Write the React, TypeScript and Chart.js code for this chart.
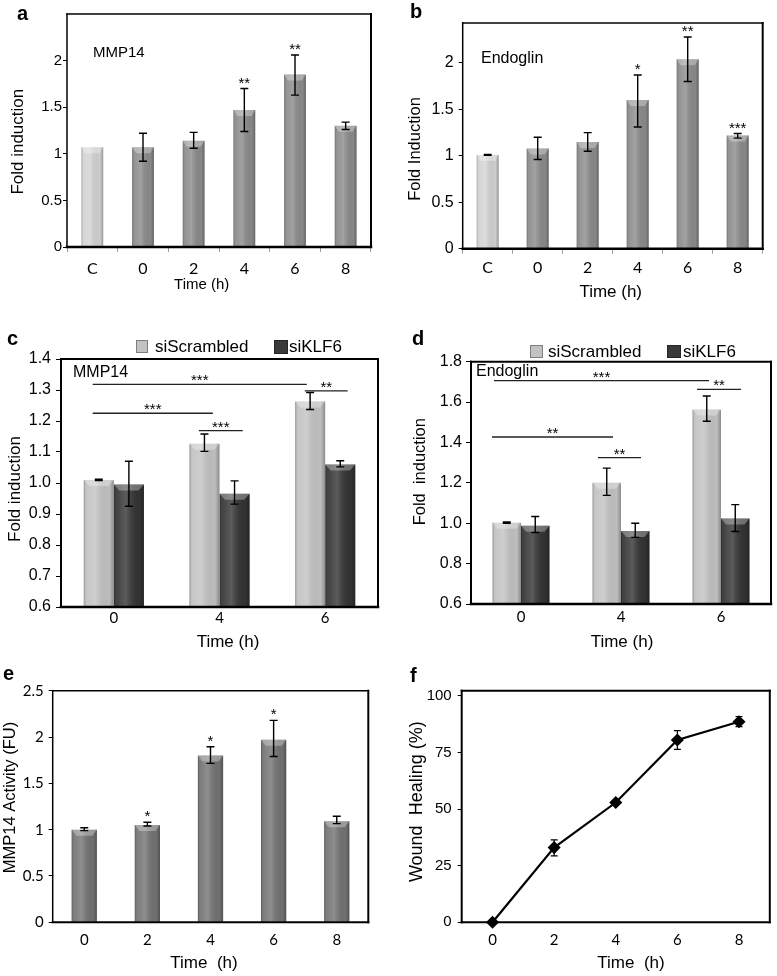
import { useEffect, useRef } from 'react';
import { Chart, registerables } from 'chart.js';

Chart.register(...registerables);
Chart.defaults.font.family = '"Liberation Sans", Arial, sans-serif';
Chart.defaults.color = '#000';

const W = 777;
const H = 976;
const YW = 40;
const XH = 30;

// ---------------- data ----------------
// panels a & b
const abCategories = ['C', '0', '2', '4', '6', '8'];
const abYTicks = [0, 0.5, 1, 1.5, 2];
const mmp14Fold = [1.07, 1.07, 1.14, 1.47, 1.85, 1.3];
const mmp14Low = [1.07, 0.92, 1.06, 1.24, 1.63, 1.26];
const mmp14High = [1.07, 1.22, 1.23, 1.7, 2.06, 1.34];
const mmp14Stars = ['', '', '', '**', '**', ''];
const endoglinFold = [1.01, 1.08, 1.15, 1.6, 2.04, 1.22];
const endoglinLow = [1.005, 0.96, 1.05, 1.31, 1.8, 1.19];
const endoglinHigh = [1.015, 1.2, 1.25, 1.87, 2.28, 1.24];
const endoglinStars = ['', '', '', '*', '**', '***'];

// panels c & d
const cdCategories = ['0', '4', '6'];
const seriesNames = ['siScrambled', 'siKLF6'];
const cYTicks = [0.6, 0.7, 0.8, 0.9, 1.0, 1.1, 1.2, 1.3, 1.4];
const dYTicks = [0.6, 0.8, 1.0, 1.2, 1.4, 1.6, 1.8];
const mmp14Scr = [1.01, 1.127, 1.263];
const mmp14ScrLow = [1.008, 1.102, 1.237];
const mmp14ScrHigh = [1.012, 1.158, 1.292];
const mmp14Klf = [0.995, 0.965, 1.06];
const mmp14KlfLow = [0.925, 0.932, 1.052];
const mmp14KlfHigh = [1.07, 1.007, 1.072];
const mmp14SigLabels = ['***', '**', '***', '***'];
const mmp14SigLevel = [1.318, 1.297, 1.225, 1.169];
const mmp14SigFrom = [-0.2, 1.807, -0.2, 0.804];
const mmp14SigTo = [1.826, 2.213, 0.937, 1.22];
const endoScr = [1.003, 1.2, 1.563];
const endoScrLow = [1.0, 1.138, 1.505];
const endoScrHigh = [1.006, 1.273, 1.63];
const endoKlf = [0.988, 0.962, 1.023];
const endoKlfLow = [0.954, 0.93, 0.959];
const endoKlfHigh = [1.033, 1.0, 1.092];
const endoSigLabels = ['***', '**', '**', '**'];
const endoSigLevel = [1.706, 1.663, 1.427, 1.325];
const endoSigFrom = [-0.27, 1.76, -0.29, 0.77];
const endoSigTo = [1.88, 2.2, 0.92, 1.2];

// panel e
const eCategories = ['0', '2', '4', '6', '8'];
const eYTicks = [0, 0.5, 1, 1.5, 2, 2.5];
const activity = [1.0, 1.05, 1.8, 1.97, 1.09];
const activityLow = [0.99, 1.04, 1.715, 1.79, 1.065];
const activityHigh = [1.02, 1.08, 1.895, 2.18, 1.145];
const activityStars = ['', '*', '*', '*', ''];

// panel f
const fTimes = [0, 2, 4, 6, 8];
const fYTicks = [0, 25, 50, 75, 100];
const healing = [0, 33, 52.9, 80.5, 88.6];
const healingLow = [0, 29.3, 51.8, 76.4, 86.4];
const healingHigh = [0, 36.4, 53.6, 84.7, 90.9];

// ---------------- styles ----------------
const LIGHT_AB = '#d2d2d2';
const DARK_AB = '#8a8a8a';
const LIGHT_CD = '#c2c2c2';
const DARK_CD = '#333333';
const DARK_E = '#727272';
const ARIAL = '"Liberation Sans", Arial, sans-serif';
const f = (size: number, bold = false) => `${bold ? 'bold ' : ''}${size}px ${ARIAL}`;
const lato = (size: number) => ({ family: 'Lato', size });
const lib = (size: number) => ({ family: ARIAL, size });

type Box = { L: number; T: number; R: number; B: number };
type Txt = { t: string; x: number; y: number; font: string; rot?: number; align?: CanvasTextAlign; base?: CanvasTextBaseline };
type Sw = { x: number; y: number; w: number; h: number; color: string };

const boxA: Box = { L: 67, T: 14, R: 371, B: 247 };
const boxB: Box = { L: 462.7, T: 23, R: 762.7, B: 248.7 };
const boxC: Box = { L: 61, T: 359, R: 378, B: 607 };
const boxD: Box = { L: 471, T: 361.7, R: 771, B: 604 };
const boxE: Box = { L: 52.7, T: 690.7, R: 368.3, B: 922.3 };
const boxF: Box = { L: 461.7, T: 690.7, R: 770, B: 922.3 };

// ---------------- plugins ----------------
function framePlugin(w: { t: number; r: number; b: number; l: number }) {
  return {
    id: 'frame',
    afterDatasetsDraw(chart: any) {
      const { ctx, chartArea: a } = chart;
      ctx.save();
      ctx.strokeStyle = '#000';
      ctx.lineCap = 'square';
      const line = (x1: number, y1: number, x2: number, y2: number, lw: number) => {
        ctx.lineWidth = lw;
        ctx.beginPath();
        ctx.moveTo(x1, y1);
        ctx.lineTo(x2, y2);
        ctx.stroke();
      };
      line(a.left, a.top, a.right, a.top, w.t);
      line(a.right, a.top, a.right, a.bottom, w.r);
      line(a.left, a.top, a.left, a.bottom, w.l);
      line(a.left, a.bottom, a.right, a.bottom, w.b);
      ctx.restore();
    },
  };
}

const shadePlugin = {
  id: 'shade',
  afterDatasetDraw(chart: any, args: any) {
    const meta = chart.getDatasetMeta(args.index);
    if (meta.type !== 'bar') return;
    const ctx = chart.ctx;
    const a = chart.chartArea;
    ctx.save();
    ctx.beginPath();
    ctx.rect(a.left, a.top, a.right - a.left, a.bottom - a.top);
    ctx.clip();
    for (const el of meta.data) {
      const p = el.getProps(['x', 'y', 'base', 'width'], true);
      const l = p.x - p.width / 2;
      const w = p.width;
      const top = Math.min(p.y, p.base);
      const h = Math.abs(p.base - p.y);
      const g = ctx.createLinearGradient(l, 0, l + w, 0);
      g.addColorStop(0, 'rgba(0,0,0,0.22)');
      g.addColorStop(0.1, 'rgba(255,255,255,0.08)');
      g.addColorStop(0.4, 'rgba(255,255,255,0.2)');
      g.addColorStop(0.85, 'rgba(0,0,0,0.02)');
      g.addColorStop(1, 'rgba(0,0,0,0.28)');
      ctx.fillStyle = g;
      ctx.fillRect(l, top, w, h);
      const cap = Math.min(6, h);
      ctx.fillStyle = 'rgba(255,255,255,0.3)';
      ctx.beginPath();
      ctx.moveTo(l, top);
      ctx.lineTo(l + w, top);
      ctx.lineTo(l + w * 0.82, top + cap);
      ctx.lineTo(l + w * 0.18, top + cap);
      ctx.closePath();
      ctx.fill();
    }
    ctx.restore();
  },
};

function errorPlugin(lows: number[][], highs: number[][], stars?: string[][], capHalf = 4, lw = 1.4) {
  return {
    id: 'errs',
    afterDatasetsDraw(chart: any) {
      const ctx = chart.ctx;
      const ys = chart.scales.y;
      ctx.save();
      ctx.strokeStyle = '#000';
      ctx.fillStyle = '#000';
      ctx.lineWidth = lw;
      lows.forEach((lo, di) => {
        const meta = chart.getDatasetMeta(di);
        meta.data.forEach((el: any, i: number) => {
          const x = el.x;
          const hi = highs[di][i];
          const yl = ys.getPixelForValue(lo[i]);
          const yh = ys.getPixelForValue(hi);
          if (hi > lo[i]) {
            ctx.beginPath();
            ctx.moveTo(x, yl);
            ctx.lineTo(x, yh);
            ctx.moveTo(x - capHalf, yl);
            ctx.lineTo(x + capHalf, yl);
            ctx.moveTo(x - capHalf, yh);
            ctx.lineTo(x + capHalf, yh);
            ctx.stroke();
          }
          const s = stars?.[di]?.[i];
          if (s) {
            ctx.font = f(15);
            ctx.textAlign = 'center';
            ctx.textBaseline = 'alphabetic';
            ctx.fillText(s, x, yh - 1);
          }
        });
      });
      ctx.restore();
    },
  };
}

function sigPlugin(labels: string[], levels: number[], from: number[], to: number[]) {
  return {
    id: 'sig',
    afterDatasetsDraw(chart: any) {
      const ctx = chart.ctx;
      const xs = chart.scales.x;
      const ys = chart.scales.y;
      ctx.save();
      ctx.strokeStyle = '#222';
      ctx.fillStyle = '#000';
      ctx.lineWidth = 1.3;
      ctx.font = f(15);
      ctx.textAlign = 'center';
      ctx.textBaseline = 'alphabetic';
      labels.forEach((lab, i) => {
        const x1 = xs.getPixelForValue(from[i]);
        const x2 = xs.getPixelForValue(to[i]);
        const y = ys.getPixelForValue(levels[i]);
        ctx.beginPath();
        ctx.moveTo(x1, y);
        ctx.lineTo(x2, y);
        ctx.stroke();
        ctx.fillText(lab, (x1 + x2) / 2, y + 1);
      });
      ctx.restore();
    },
  };
}

function textPlugin(items: Txt[], swatches: Sw[] = []) {
  return {
    id: 'texts',
    afterDraw(chart: any) {
      const ctx = chart.ctx;
      swatches.forEach((s) => {
        ctx.save();
        const g = ctx.createLinearGradient(s.x, 0, s.x + s.w, 0);
        g.addColorStop(0, s.color);
        g.addColorStop(0.4, s.color);
        g.addColorStop(1, s.color);
        ctx.fillStyle = g;
        ctx.fillRect(s.x, s.y, s.w, s.h);
        ctx.strokeStyle = 'rgba(0,0,0,0.35)';
        ctx.lineWidth = 1;
        ctx.strokeRect(s.x + 0.5, s.y + 0.5, s.w - 1, s.h - 1);
        ctx.restore();
      });
      items.forEach((it) => {
        ctx.save();
        ctx.font = it.font;
        ctx.fillStyle = '#000';
        ctx.textAlign = it.align || 'center';
        ctx.textBaseline = it.base || 'middle';
        ctx.translate(it.x, it.y);
        if (it.rot) ctx.rotate(it.rot);
        ctx.fillText(it.t, 0, 0);
        ctx.restore();
      });
    },
  };
}

// ---------------- scale helpers ----------------
function yLin(o: { min: number; max: number; ticks: number[]; font: any; tl: number; pad: number; dec?: number }) {
  return {
    type: 'linear',
    min: o.min,
    max: o.max,
    afterFit: (s: any) => {
      s.width = YW;
    },
    afterBuildTicks: (s: any) => {
      s.ticks = o.ticks.map((v) => ({ value: v }));
    },
    border: { display: false },
    grid: { display: true, drawOnChartArea: false, drawTicks: true, tickLength: o.tl, color: '#000', lineWidth: 1 },
    ticks: {
      font: o.font,
      color: '#000',
      padding: o.pad,
      callback: (v: any) => (o.dec !== undefined ? Number(v).toFixed(o.dec) : String(v)),
    },
  };
}

function xCat(o: { font: any; pad: number; marks: boolean }) {
  return {
    type: 'category',
    offset: true,
    afterFit: (s: any) => {
      s.height = XH;
    },
    border: { display: false },
    grid: { display: o.marks, offset: true, drawOnChartArea: false, drawTicks: o.marks, tickLength: 5, color: '#9a9a9a' },
    ticks: { font: o.font, color: '#000', padding: o.pad, maxRotation: 0, autoSkip: false },
  };
}

function baseOptions(b: Box, scales: any) {
  return {
    responsive: false,
    animation: false,
    devicePixelRatio: 1,
    events: [],
    layout: { padding: { left: b.L - YW, top: b.T, right: W - b.R, bottom: H - b.B - XH } },
    plugins: { legend: { display: false }, tooltip: { enabled: false } },
    scales,
  };
}

const R90 = -Math.PI / 2;

// ---------------- builders ----------------
const builders: ((c: HTMLCanvasElement) => Chart)[] = [
  // a
  (c) =>
    new Chart(c, {
      type: 'bar',
      data: {
        labels: abCategories,
        datasets: [
          {
            data: mmp14Fold,
            backgroundColor: abCategories.map((_, i) => (i === 0 ? LIGHT_AB : DARK_AB)),
            barPercentage: 0.43,
            categoryPercentage: 1,
            borderWidth: 0,
          },
        ],
      },
      options: baseOptions(boxA, {
        x: xCat({ font: lato(16), pad: 7, marks: true }),
        y: yLin({ min: 0, max: 2.5, ticks: abYTicks, font: lib(15), tl: 4, pad: 1 }),
      }) as any,
      plugins: [
        shadePlugin,
        framePlugin({ t: 1.5, r: 2, b: 2.5, l: 1.5 }),
        errorPlugin([mmp14Low], [mmp14High], [mmp14Stars]),
        textPlugin([
          { t: 'a', x: 17, y: 19.5, font: f(20, true), align: 'left', base: 'alphabetic' },
          { t: 'MMP14', x: 93, y: 53, font: f(15), align: 'left' },
          { t: 'Fold induction', x: 18, y: 141.7, font: f(17), rot: R90 },
          { t: 'Time (h)', x: 201.7, y: 285, font: f(15) },
        ]),
      ],
    } as any),
  // b
  (c) =>
    new Chart(c, {
      type: 'bar',
      data: {
        labels: abCategories,
        datasets: [
          {
            data: endoglinFold,
            backgroundColor: abCategories.map((_, i) => (i === 0 ? LIGHT_AB : DARK_AB)),
            barPercentage: 0.44,
            categoryPercentage: 1,
            borderWidth: 0,
          },
        ],
      },
      options: baseOptions(boxB, {
        x: xCat({ font: lato(16), pad: 5, marks: true }),
        y: yLin({ min: 0, max: 2.43, ticks: abYTicks, font: lib(16), tl: 4, pad: 5 }),
      }) as any,
      plugins: [
        shadePlugin,
        framePlugin({ t: 1.5, r: 2, b: 2.5, l: 1.5 }),
        errorPlugin([endoglinLow], [endoglinHigh], [endoglinStars]),
        textPlugin([
          { t: 'b', x: 410, y: 18, font: f(20, true), align: 'left', base: 'alphabetic' },
          { t: 'Endoglin', x: 481, y: 59, font: f(16), align: 'left' },
          { t: 'Fold Induction', x: 415, y: 149, font: f(16.5), rot: R90 },
          { t: 'Time (h)', x: 610.7, y: 292, font: f(17) },
        ]),
      ],
    } as any),
  // c
  (c) =>
    new Chart(c, {
      type: 'bar',
      data: {
        labels: cdCategories,
        datasets: [
          { label: seriesNames[0], data: mmp14Scr, backgroundColor: LIGHT_CD, barPercentage: 1, categoryPercentage: 0.57, borderWidth: 0 },
          { label: seriesNames[1], data: mmp14Klf, backgroundColor: DARK_CD, barPercentage: 1, categoryPercentage: 0.57, borderWidth: 0 },
        ],
      },
      options: baseOptions(boxC, {
        x: xCat({ font: lato(15), pad: 2, marks: false }),
        y: yLin({ min: 0.6, max: 1.4, ticks: cYTicks, font: lib(16), tl: 5, pad: 5, dec: 1 }),
      }) as any,
      plugins: [
        shadePlugin,
        framePlugin({ t: 2, r: 2, b: 2.5, l: 2 }),
        errorPlugin([mmp14ScrLow, mmp14KlfLow], [mmp14ScrHigh, mmp14KlfHigh]),
        sigPlugin(mmp14SigLabels, mmp14SigLevel, mmp14SigFrom, mmp14SigTo),
        textPlugin(
          [
            { t: 'c', x: 7, y: 345, font: f(20, true), align: 'left', base: 'alphabetic' },
            { t: 'MMP14', x: 73, y: 373, font: f(16), align: 'left' },
            { t: 'Fold induction', x: 15, y: 489, font: f(17), rot: R90 },
            { t: 'Time (h)', x: 228, y: 642, font: f(17) },
            { t: seriesNames[0], x: 155, y: 347, font: f(17), align: 'left' },
            { t: seriesNames[1], x: 289, y: 347, font: f(17), align: 'left' },
          ],
          [
            { x: 136, y: 340, w: 12, h: 13, color: LIGHT_CD },
            { x: 274, y: 340, w: 14, h: 14, color: '#3a3a3a' },
          ]
        ),
      ],
    } as any),
  // d
  (c) =>
    new Chart(c, {
      type: 'bar',
      data: {
        labels: cdCategories,
        datasets: [
          { label: seriesNames[0], data: endoScr, backgroundColor: LIGHT_CD, barPercentage: 1, categoryPercentage: 0.57, borderWidth: 0 },
          { label: seriesNames[1], data: endoKlf, backgroundColor: DARK_CD, barPercentage: 1, categoryPercentage: 0.57, borderWidth: 0 },
        ],
      },
      options: baseOptions(boxD, {
        x: xCat({ font: lato(15), pad: 4, marks: false }),
        y: yLin({ min: 0.6, max: 1.8, ticks: dYTicks, font: lib(16), tl: 5, pad: 4, dec: 1 }),
      }) as any,
      plugins: [
        shadePlugin,
        framePlugin({ t: 2, r: 2, b: 2.5, l: 2 }),
        errorPlugin([endoScrLow, endoKlfLow], [endoScrHigh, endoKlfHigh]),
        sigPlugin(endoSigLabels, endoSigLevel, endoSigFrom, endoSigTo),
        textPlugin(
          [
            { t: 'd', x: 412, y: 345, font: f(20, true), align: 'left', base: 'alphabetic' },
            { t: 'Endoglin', x: 476, y: 372, font: f(16), align: 'left' },
            { t: 'Fold  induction', x: 420, y: 471.7, font: f(16.5), rot: R90 },
            { t: 'Time (h)', x: 622, y: 642, font: f(17) },
            { t: seriesNames[0], x: 548, y: 352, font: f(17), align: 'left' },
            { t: seriesNames[1], x: 683, y: 352, font: f(17), align: 'left' },
          ],
          [
            { x: 530, y: 345, w: 13, h: 13, color: LIGHT_CD },
            { x: 667, y: 345, w: 14, h: 13, color: '#3a3a3a' },
          ]
        ),
      ],
    } as any),
  // e
  (c) =>
    new Chart(c, {
      type: 'bar',
      data: {
        labels: eCategories,
        datasets: [{ data: activity, backgroundColor: DARK_E, barPercentage: 0.4, categoryPercentage: 1, borderWidth: 0 }],
      },
      options: baseOptions(boxE, {
        x: xCat({ font: lato(15), pad: 9, marks: false }),
        y: yLin({ min: 0, max: 2.5, ticks: eYTicks, font: lato(15), tl: 4, pad: 5 }),
      }) as any,
      plugins: [
        shadePlugin,
        framePlugin({ t: 1.5, r: 2, b: 2, l: 1.5 }),
        errorPlugin([activityLow], [activityHigh], [activityStars]),
        textPlugin([
          { t: 'e', x: 3, y: 680, font: f(20, true), align: 'left', base: 'alphabetic' },
          { t: 'MMP14 Activity (FU)', x: 10.5, y: 797.5, font: f(16.5), rot: R90 },
          { t: 'Time  (h)', x: 204, y: 963, font: f(17) },
        ]),
      ],
    } as any),
  // f
  (c) =>
    new Chart(c, {
      type: 'line',
      data: {
        datasets: [
          {
            data: fTimes.map((t, i) => ({ x: t, y: healing[i] })),
            borderColor: '#000',
            borderWidth: 2.2,
            pointStyle: 'rectRot',
            pointRadius: 5,
            pointBackgroundColor: '#000',
            pointBorderColor: '#000',
            clip: false,
          },
        ],
      },
      options: baseOptions(boxF, {
        x: {
          type: 'linear',
          min: -1,
          max: 9,
          afterFit: (s: any) => {
            s.height = XH;
          },
          afterBuildTicks: (s: any) => {
            s.ticks = fTimes.map((v) => ({ value: v }));
          },
          border: { display: false },
          grid: { display: false, drawTicks: false },
          ticks: { font: lato(15), color: '#000', padding: 9 },
        },
        y: yLin({ min: 0, max: 102.3, ticks: fYTicks, font: lib(15), tl: 4, pad: 6 }),
      }) as any,
      plugins: [
        framePlugin({ t: 2, r: 2, b: 2, l: 2 }),
        errorPlugin([healingLow], [healingHigh], undefined, 3.5, 1.2),
        textPlugin([
          { t: 'f', x: 410, y: 682, font: f(20, true), align: 'left', base: 'alphabetic' },
          { t: 'Wound  Healing (%)', x: 416.7, y: 801.7, font: f(18), rot: R90 },
          { t: 'Time  (h)', x: 631, y: 963, font: f(17) },
        ]),
      ],
    } as any),
];

export default function App() {
  const refs = useRef<(HTMLCanvasElement | null)[]>([]);
  useEffect(() => {
    const charts = builders.map((b, i) => b(refs.current[i] as HTMLCanvasElement));
    return () => charts.forEach((ch) => ch.destroy());
  }, []);
  return (
    <div style={{ position: 'absolute', left: 0, top: 0, width: W, height: H, background: '#fff', overflow: 'hidden' }}>
      {builders.map((_, i) => (
        <canvas
          key={i}
          ref={(el) => {
            refs.current[i] = el;
          }}
          width={W}
          height={H}
          style={{ position: 'absolute', left: 0, top: 0 }}
        />
      ))}
    </div>
  );
}
